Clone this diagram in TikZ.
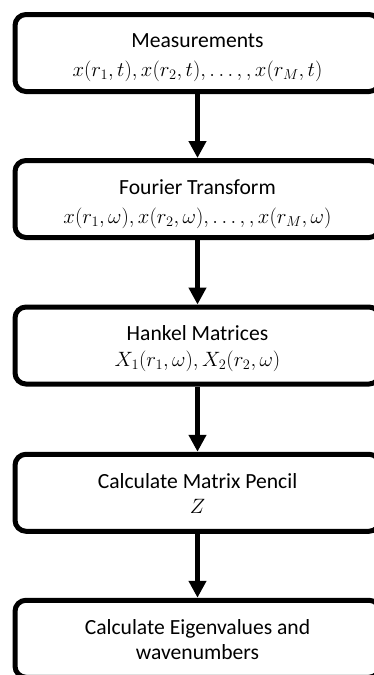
\documentclass[tikz,border=0pt]{standalone}
\usepackage{fontspec}
\setmainfont{Carlito}
\usetikzlibrary{arrows.meta}
\newcommand{\boxtext}[3]{\rule{0pt}{#1pt}#2\\#3\rule[-6pt]{0pt}{6pt}}
\tikzset{
  stepbox/.style={draw=black, line width=5pt, rounded corners=11pt, fill=white,
    minimum width=365pt, minimum height=77pt, align=center, inner sep=0pt},
  wide/.style={font=\fontsize{21.6}{29}\selectfont},
  tight/.style={font=\fontsize{21.6}{25.7}\selectfont},
  flow/.style={line width=5pt, -{Triangle[length=17pt,width=17pt]}}
}
\begin{document}
\begin{tikzpicture}[x=1pt,y=-1pt]
\useasboundingbox (0,0) rectangle (374,675);
\node[stepbox,wide] (m) at (197.5,53) {\boxtext{23}{Measurements}{$x(r_1,t),x(r_2,t),\dots,,x(r_M,t)$}};
\node[stepbox,wide] (f) at (197.5,199) {\boxtext{25}{Fourier Transform}{$x(r_1,\omega),x(r_2,\omega),\dots,,x(r_M,\omega)$}};
\node[stepbox,tight] (h) at (197.5,345.5) {\boxtext{22.2}{Hankel Matrices}{$X_1(r_1,\omega),X_2(r_2,\omega)$}};
\node[stepbox,tight] (p) at (197.5,492.75) {\boxtext{22.2}{Calculate Matrix Pencil}{$Z$}};
\node[stepbox,tight] (e) at (197.5,638.75) {\boxtext{22.2}{Calculate Eigenvalues and}{wavenumbers}};
\draw[flow] (m.south) -- (f.north);
\draw[flow] (f.south) -- (h.north);
\draw[flow] (h.south) -- (p.north);
\draw[flow] (p.south) -- (e.north);
\end{tikzpicture}
\end{document}
